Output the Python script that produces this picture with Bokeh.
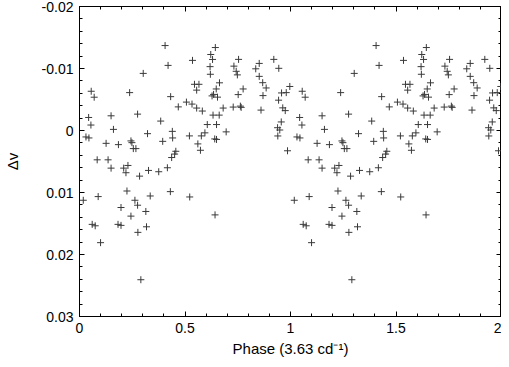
import numpy as np
from bokeh.plotting import figure
from bokeh.models import (ColumnDataSource, Range1d, LinearAxis, FixedTicker,
                          CustomJSTickFormatter)
from bokeh.embed import file_html
from bokeh.resources import INLINE

# Phase-folded data (one cycle); plotted twice (phase and phase + 1)
phase = [0.302, 0.0555, 0.0696, 0.2376, 0.0433, 0.1496, 0.2753, 0.0541, 0.1609, 0.3224,
         0.0306, 0.0447, 0.1261, 0.1845, 0.2438, 0.2485, 0.2551, 0.2673, 0.0838, 0.1355,
         0.1496, 0.2094, 0.2296, 0.2202, 0.2847, 0.3271, 0.2249, 0.0885, 0.0179, 0.2626,
         0.2753, 0.1967, 0.3351, 0.3144, 0.2438, 0.0602, 0.0744, 0.1826, 0.1967, 0.3176,
         0.2767, 0.0998, 0.2908, 0.3755, 0.4165, 0.4367, 0.4508, 0.4565, 0.4306, 0.5224,
         0.6424, 0.5732, 0.6438, 0.6221, 0.6306, 0.5355, 0.7539, 0.8518, 0.9209, 0.6188,
         0.7318, 0.8353, 0.9445, 0.6202, 0.7426, 0.7482, 0.8518, 0.5449, 0.5661, 0.6635,
         0.8682, 0.5553, 0.6480, 0.7755, 0.8847, 0.9967, 0.6353, 0.6282, 0.6541, 0.7520,
         0.8696, 0.9576, 0.9798, 0.5068, 0.5332, 0.5553, 0.5821, 0.6809, 0.7285, 0.7624,
         0.7661, 0.8602, 0.9435, 0.9633, 0.9751, 0.6329, 0.6621, 0.9562, 0.6056, 0.6494,
         0.6951, 0.9388, 0.9492, 0.9398, 0.5209, 0.5774, 0.5944, 0.6409, 0.6494, 0.5609,
         0.9859, 0.4056, 0.4198, 0.4320, 0.4682, 0.3849, 0.4400, 0.4414, 0.3944]
dv = [-0.00921, -0.00633, -0.00537, -0.00611, -0.00210, -0.00237, -0.00264, -0.00088, -0.00018, 0.00051,
      0.00104, 0.00120, 0.00207, 0.00228, 0.00168, 0.00196, 0.00292, 0.00292, 0.00473, 0.00473,
      0.00607, 0.00607, 0.00564, 0.00681, 0.00736, 0.00644, 0.00976, 0.01066, 0.01125, 0.01125,
      0.01205, 0.01242, 0.01056, 0.01306, 0.01381, 0.01514, 0.01537, 0.01514, 0.01530, 0.01553,
      0.01643, 0.01809, 0.02407, 0.00665, 0.00601, 0.00436, 0.00380, 0.00335, 0.00986, 0.01072,
      0.01361, 0.00319, -0.01338, -0.01226, -0.01146, -0.01131, -0.01147, -0.01082, -0.01147, -0.01030,
      -0.01038, -0.00995, -0.01003, -0.00907, -0.00955, -0.00897, -0.00873, -0.00745, -0.00745, -0.00769,
      -0.00771, -0.00651, -0.00670, -0.00670, -0.00686, -0.00710, -0.00582, -0.00558, -0.00538, -0.00579,
      -0.00563, -0.00606, -0.00611, -0.00458, -0.00426, -0.00362, -0.00314, -0.00362, -0.00378, -0.00393,
      -0.00373, -0.00329, -0.00489, -0.00365, -0.00321, -0.00248, -0.00248, -0.00138, -0.00096, -0.00096,
      0.00022, -0.00045, -0.00008, 0.00088, 0.00087, 0.00087, 0.00038, 0.00136, 0.00144, 0.00216,
      0.00327, -0.01370, -0.01050, -0.00546, -0.00381, -0.00152, 0.00014, 0.00120, 0.00175]

x_major = [0, 0.5, 1, 1.5, 2]
x_minor = [round(i * 0.1, 1) for i in range(21)]
y_major = [-0.02, -0.01, 0, 0.01, 0.02, 0.03]
y_minor = [round(-0.02 + i * 0.002, 3) for i in range(26)]

ph = np.array(phase)
src = ColumnDataSource(dict(x=np.concatenate([ph, ph + 1]), y=np.concatenate([dv, dv])))

FONT = "Liberation Sans"

p = figure(width=501, height=359, output_backend="svg", toolbar_location=None,
           x_range=Range1d(0, 2), y_range=Range1d(0.03, -0.02),
           min_border_left=70, min_border_right=0, min_border_top=6, min_border_bottom=42,
           x_axis_label="Phase (3.63 cd\u207b\u00b9)", y_axis_label="\u0394v")
p.grid.visible = False
p.outline_line_color = "black"
p.background_fill_color = "white"
p.border_fill_color = "white"

p.scatter("x", "y", source=src, marker="cross", size=7, line_color="#3a3a3a",
          line_width=1)

fmt = CustomJSTickFormatter(code="return String(Number(tick.toFixed(3)));")
blank = CustomJSTickFormatter(code="return '';")


def style(ax, ticks, minor, labels=True):
    ax.ticker = FixedTicker(ticks=ticks, minor_ticks=minor)
    ax.axis_line_color = "black"
    ax.axis_line_width = 1
    ax.major_tick_in = 5
    ax.major_tick_out = 0
    ax.minor_tick_in = 3
    ax.minor_tick_out = 0
    ax.major_tick_line_color = "black"
    ax.minor_tick_line_color = "black"
    if labels:
        ax.formatter = fmt
        ax.major_label_text_font = FONT
        ax.major_label_text_font_size = "14px"
        ax.major_label_text_color = "black"
        ax.axis_label_text_font = FONT
        ax.axis_label_text_font_size = "15px"
        ax.axis_label_text_font_style = "normal"
        ax.axis_label_text_color = "black"
        ax.major_label_standoff = 6
    else:
        ax.formatter = blank
        ax.major_label_text_font_size = "1px"
        ax.major_label_standoff = 0
        ax.axis_label_standoff = 0


style(p.xaxis[0], x_major, x_minor)
p.xaxis[0].axis_label_standoff = 4
style(p.yaxis[0], y_major, y_minor)
p.yaxis[0].axis_label_standoff = 18

top = LinearAxis()
style(top, x_major, x_minor, labels=False)
p.add_layout(top, "above")
right = LinearAxis()
style(right, y_major, y_minor, labels=False)
p.add_layout(right, "right")

open("out.html", "w").write(file_html(p, INLINE))
